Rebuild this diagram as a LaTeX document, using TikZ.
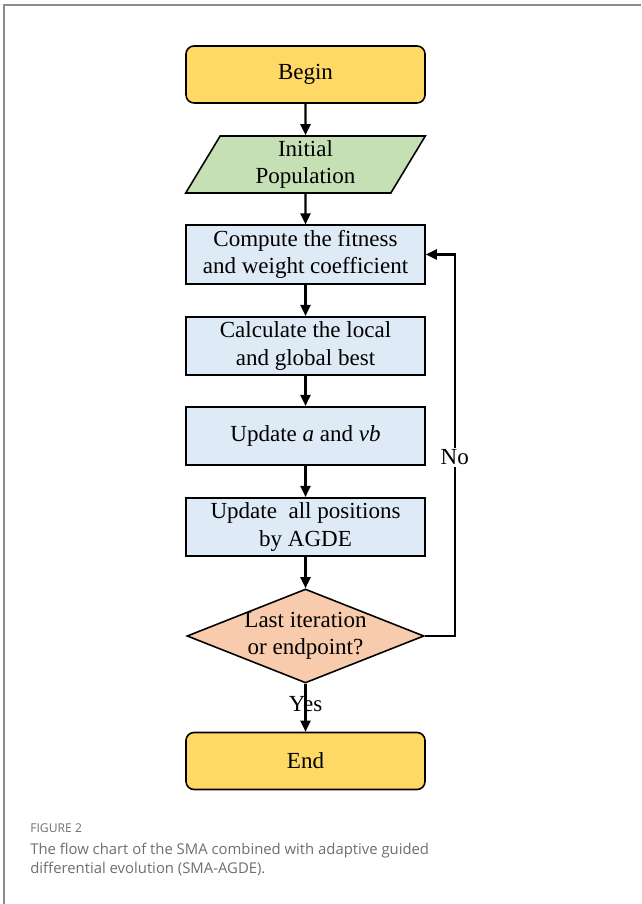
\documentclass[tikz,border=0pt]{standalone}
\usepackage{fontspec}
\setmainfont{Liberation Serif}
\newfontfamily\capfont{Open Sans}
\usetikzlibrary{shapes.geometric,arrows.meta}
\definecolor{startyellow}{HTML}{FFD966}
\definecolor{inputgreen}{HTML}{C5E0B4}
\definecolor{stepblue}{HTML}{DEEBF7}
\definecolor{checkorange}{HTML}{F8CBAD}
\definecolor{framegray}{HTML}{8C8C8C}
\definecolor{captiongray}{HTML}{6E6E6E}
\begin{document}
\begin{tikzpicture}[
    font=\fontsize{13.1}{15.5}\selectfont,
    terminal/.style={draw,rounded corners=0.16cm,fill=startyellow,
      minimum width=4.78cm,minimum height=1.14cm,line width=0.9pt},
    iobox/.style={draw,trapezium,trapezium left angle=68,trapezium right angle=112,
      trapezium stretches=true,fill=inputgreen,align=center,inner sep=1pt,
      minimum width=4.8cm,minimum height=1.14cm,line width=0.9pt},
    process/.style={draw,fill=stepblue,align=center,inner sep=1.5pt,
      minimum width=4.78cm,minimum height=1.17cm,line width=0.9pt},
    decision/.style={draw,diamond,fill=checkorange,inner sep=0pt,
      minimum width=4.74cm,minimum height=1.88cm,line width=0.9pt},
    flow/.style={line width=1.2pt,-{Triangle[length=0.22cm,width=0.2cm]}}
  ]
    \useasboundingbox (0,0) rectangle (12.82,18.08);
    \draw[framegray,line width=0.04cm] (0.08,0) -- (0.08,17.98) -- (12.82,17.98);
    % flow chart
    \node at (6.11,16.59) [terminal] (begin) {Begin};
    \node at (6.11,14.79) [iobox] (init) {Initial\\Population};
    \node at (6.11,12.99) [process] (fit) {Compute the fitness\\and weight coefficient};
    \node at (6.11,11.16) [process] (best) {Calculate the local\\and global best};
    \node at (6.11,9.36) [process] (upd) {Update \textit{a} and \textit{vb}};
    \node at (6.11,7.54) [process] (agde) {Update\ \ all positions\\by AGDE};
    \node at (6.11,5.36) [decision] (last) {};
    \node at (last) [align=center] (lasttxt) {Last iteration\\or endpoint?};
    \node at (6.11,2.86) [terminal] (end) {End};
    \draw[flow] (begin) -- (init);
    \draw[flow] (init) -- (fit);
    \draw[flow] (fit) -- (best);
    \draw[flow] (best) -- (upd);
    \draw[flow] (upd) -- (agde);
    \draw[flow] (agde) -- (last);
    \draw[flow] (last) -- node[pos=0.42] (yes) {Yes} (end);
    \draw[flow] (last.east) -- ++(0.6,0) |- node[pos=0.234,fill=white,inner sep=1pt] (no) {No} (fit.east);
    % caption
    \node at (0.6,1.52) [anchor=west,inner sep=0pt,text=captiongray,
      font=\capfont\fontsize{6.9}{9}\selectfont] (fig) {FIGURE 2};
    \node at (0.6,0.89) [anchor=west,inner sep=0pt,align=left,text=captiongray,
      font=\capfont\fontsize{8.45}{10.8}\selectfont] (cap)
      {The flow chart of the SMA combined with adaptive guided\\differential evolution (SMA-AGDE).};
\end{tikzpicture}
\end{document}
